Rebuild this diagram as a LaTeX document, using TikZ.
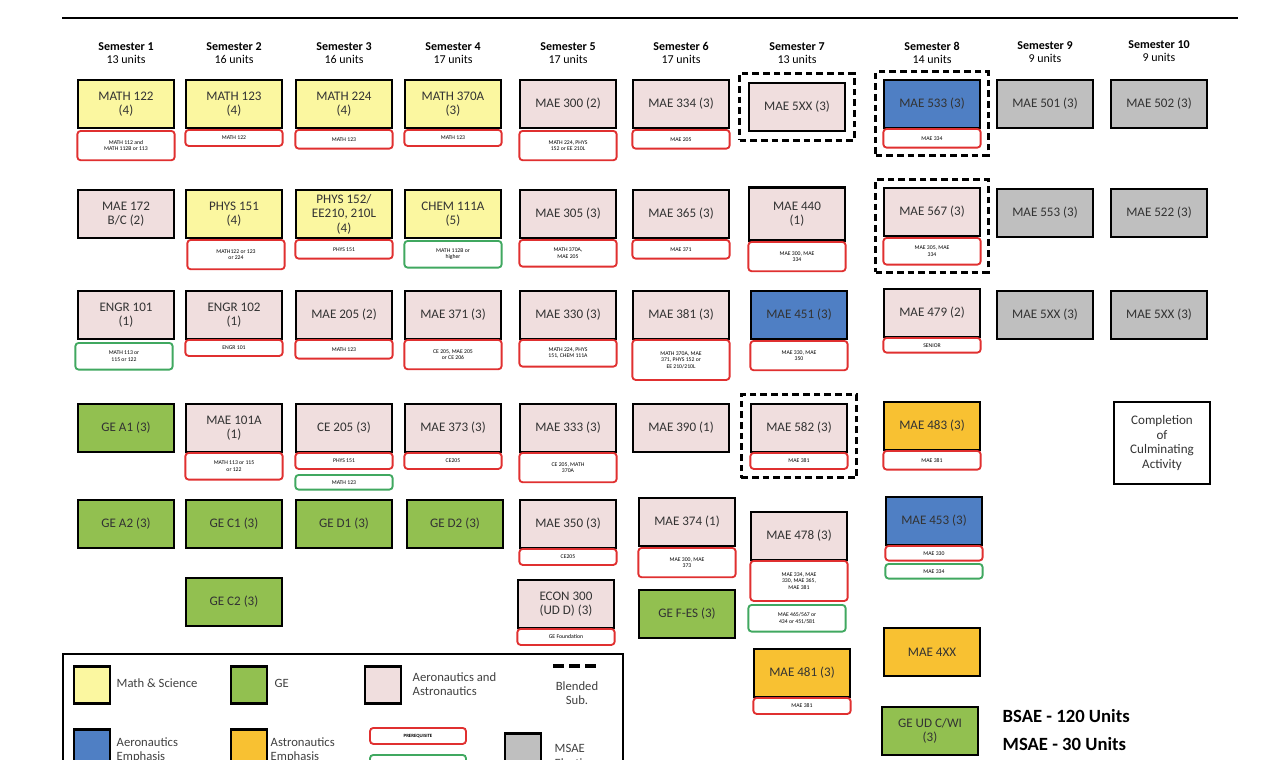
\documentclass[tikz,border=0pt]{standalone}
\usepackage{fontspec}
\setmainfont{Carlito}
\usetikzlibrary{fit}
\definecolor{cy}{HTML}{FBF7A0}
\definecolor{cg}{HTML}{92C050}
\definecolor{cp}{HTML}{F0DEDE}
\definecolor{cb}{HTML}{4F7FC4}
\definecolor{co}{HTML}{F8C132}
\definecolor{cgr}{HTML}{BFBFBF}
\definecolor{cr}{HTML}{E03030}
\definecolor{cgn}{HTML}{40A860}
\tikzset{
 crs/.style={draw, line width=2.2pt, minimum width=72pt, minimum height=36pt, inner sep=1pt, align=center, font=\fontsize{9.8}{10.8}\selectfont, text=black!80},
 ms/.style={crs, fill=cy}, ge/.style={crs, fill=cg}, aa/.style={crs, fill=cp},
 bl/.style={crs, fill=cb}, orng/.style={crs, fill=co}, gy/.style={crs, fill=cgr},
 pre/.style={draw=cr, line width=1.4pt, rounded corners=2.5pt, fill=white, minimum width=73pt, inner sep=0.5pt, anchor=north, align=center, font=\fontsize{4.3}{4.8}\selectfont},
 coreq/.style={pre, draw=cgn},
 blend/.style={draw, dash pattern=on 5pt off 3pt, line width=2.2pt},
 hdr/.style={align=center, font=\bfseries\fontsize{9}{11}\selectfont}
}
\begin{document}
\begin{tikzpicture}[x=0.75pt,y=-0.75pt]
\useasboundingbox (0,0) rectangle (1278,760);
\clip (0,0) rectangle (1278,760);
\draw[line width=1.5pt] (62,18) -- (1238,18);
% headers
\foreach \x/\s/\u in {126/1/13,234/2/16,344/3/16,453/4/17,568/5/17,681/6/17,797/7/13,932/8/14}
 \node[hdr] (h\s) at (\x,53) {Semester \s\\[-1pt]{\mdseries \u\ units}};
\node[hdr] (h9) at (1045,52) {Semester 9\\[-1pt]{\mdseries 9 units}};
\node[hdr] (h10) at (1159,51) {Semester 10\\[-1pt]{\mdseries 9 units}};
% Sem 1
\node[ms] (a1) at (126,104) {MATH 122\\(4)};
\node[pre, minimum height=22pt] (pa1) at (126,130) {MATH 112 and\\MATH 112B or 113};
\node[aa] (a2) at (126,214) {MAE 172\\B/C (2)};
\node[aa] (a3) at (126,315) {ENGR 101\\(1)};
\node[coreq, minimum height=20pt] (pa3) at (124,342) {MATH 113 or\\115 or 122};
\node[ge] (a4) at (126,428) {GE A1 (3)};
\node[ge] (a5) at (126,524) {GE A2 (3)};
% Sem 2
\node[ms] (b1) at (234,104) {MATH 123\\(4)};
\node[pre, minimum height=12pt] (pb1) at (234,129) {MATH 122};
\node[ms] (b2) at (234,214) {PHYS 151\\(4)};
\node[pre, minimum height=22pt] (pb2) at (236,239) {MATH122 or 123\\or 224};
\node[aa] (b3) at (234,315) {ENGR 102\\(1)};
\node[pre, minimum height=12pt] (pb3) at (234,339) {ENGR 101};
\node[aa] (b4) at (234,428) {MAE 101A\\(1)};
\node[pre, minimum height=20pt] (pb4) at (234,452) {MATH 113 or 115\\or 122};
\node[ge] (b5) at (234,524) {GE C1 (3)};
\node[ge] (b6) at (234,602) {GE C2 (3)};
% Sem 3
\node[ms] (c1) at (344,104) {MATH 224\\(4)};
\node[pre, minimum height=14pt] (pc1) at (344,129) {MATH 123};
\node[ms] (c2) at (344,214) {PHYS 152/\\EE210, 210L\\(4)};
\node[pre, minimum height=14pt] (pc2) at (344,239) {PHYS 151};
\node[aa] (c3) at (344,315) {MAE 205 (2)};
\node[pre, minimum height=14pt] (pc3) at (344,339) {MATH 123};
\node[aa] (c4) at (344,428) {CE 205 (3)};
\node[pre, minimum height=12pt] (pc4) at (344,452) {PHYS 151};
\node[coreq, minimum height=11pt] (qc4) at (344,474) {MATH 123};
\node[ge] (c5) at (344,524) {GE D1 (3)};
% Sem 4
\node[ms] (d1) at (453,104) {MATH 370A\\(3)};
\node[pre, minimum height=12pt] (pd1) at (453,129) {MATH 123};
\node[ms] (d2) at (453,214) {CHEM 111A\\(5)};
\node[coreq, minimum height=20pt] (pd2) at (453,240) {MATH 112B or\\higher};
\node[aa] (d3) at (453,315) {MAE 371 (3)};
\node[pre, minimum height=22pt] (pd3) at (453,339) {CE 205, MAE 205\\or CE 206};
\node[aa] (d4) at (453,428) {MAE 373 (3)};
\node[pre, minimum height=12pt] (pd4) at (453,452) {CE205};
\node[ge] (d5) at (455,524) {GE D2 (3)};
% Sem 5
\node[aa] (e1) at (568,104) {MAE 300 (2)};
\node[pre, minimum height=22pt] (pe1) at (568,130) {MATH 224, PHYS\\152 or EE 210L};
\node[aa] (e2) at (568,214) {MAE 305 (3)};
\node[pre, minimum height=20pt] (pe2) at (568,239) {MATH 370A,\\MAE 205};
\node[aa] (e3) at (568,315) {MAE 330 (3)};
\node[pre, minimum height=20pt] (pe3) at (568,339) {MATH 224, PHYS\\151, CHEM 111A};
\node[aa] (e4) at (568,428) {MAE 333 (3)};
\node[pre, minimum height=22pt] (pe4) at (568,452) {CE 205, MATH\\370A};
\node[aa] (e5) at (568,524) {MAE 350 (3)};
\node[pre, minimum height=12pt] (pe5) at (568,548) {CE205};
\node[aa] (e6) at (566,604) {ECON 300\\(UD D) (3)};
\node[pre, minimum height=12pt] (pe6) at (566,628) {GE Foundation};
% Sem 6
\node[aa] (f1) at (681,104) {MAE 334 (3)};
\node[pre, minimum height=14pt] (pf1) at (681,129) {MAE 205};
\node[aa] (f2) at (681,214) {MAE 365 (3)};
\node[pre, minimum height=14pt] (pf2) at (681,239) {MAE 371};
\node[aa] (f3) at (681,315) {MAE 381 (3)};
\node[pre, minimum height=30pt] (pf3) at (681,339) {MATH 370A, MAE\\371, PHYS 152 or\\EE 210/210L};
\node[aa] (f4) at (681,428) {MAE 390 (1)};
\node[aa] (f5) at (687,522) {MAE 374 (1)};
\node[pre, minimum height=22pt] (pf5) at (687,547) {MAE 300, MAE\\373};
\node[ge] (f6) at (687,614) {GE F-ES (3)};
% Sem 7
\node[aa] (g1) at (797,107) {MAE 5XX (3)};
\node[blend, fit=(g1), inner sep=6pt] (bg1) {};
\node[aa, minimum height=40pt] (g2) at (797,214) {MAE 440\\(1)};
\node[pre, minimum height=22pt] (pg2) at (797,241) {MAE 300, MAE\\334};
\node[bl] (g3) at (799,315) {MAE 451 (3)};
\node[pre, minimum height=22pt] (pg3) at (799,340) {MAE 330, MAE\\350};
\node[aa] (g4) at (799,428) {MAE 582 (3)};
\node[pre, minimum height=12pt] (pg4) at (799,452) {MAE 381};
\node[blend, fit=(g4)(pg4), inner sep=6pt] (bg4) {};
\node[aa] (g5) at (799,536) {MAE 478 (3)};
\node[pre, minimum height=30pt] (pg5) at (799,560) {MAE 334, MAE\\330, MAE 365,\\MAE 381};
\node[coreq, minimum height=20pt] (qg5) at (797,604) {MAE 465/567 or\\434 or 451/581};
\node[orng] (g6) at (802,673) {MAE 481 (3)};
\node[pre, minimum height=12pt] (pg6) at (802,697) {MAE 381};
% Sem 8
\node[bl] (h81) at (932,104) {MAE 533 (3)};
\node[pre, minimum height=14pt] (ph81) at (932,128) {MAE 334};
\node[blend, fit=(h81)(ph81), inner sep=5pt] (bh81) {};
\node[aa] (h82) at (932,212) {MAE 567 (3)};
\node[pre, minimum height=20pt] (ph82) at (932,237) {MAE 305, MAE\\334};
\node[blend, fit=(h82)(ph82), inner sep=5pt] (bh82) {};
\node[aa] (h83) at (932,313) {MAE 479 (2)};
\node[pre, minimum height=11pt] (ph83) at (932,337) {SENIOR};
\node[orng] (h84) at (932,426) {MAE 483 (3)};
\node[pre, minimum height=14pt] (ph84) at (932,450) {MAE 381};
\node[bl] (h85) at (934,521) {MAE 453 (3)};
\node[pre, minimum height=11pt] (ph85) at (934,545) {MAE 330};
\node[coreq, minimum height=11pt] (qh85) at (934,563) {MAE 334};
\node[orng] (h86) at (932,652) {MAE 4XX};
\node[ge] (h87) at (930,731) {GE UD C/WI\\(3)};
% Sem 9, 10
\node[gy] (i1) at (1045,104) {MAE 501 (3)};
\node[gy] (i2) at (1045,213) {MAE 553 (3)};
\node[gy] (i3) at (1045,315) {MAE 5XX (3)};
\node[gy] (j1) at (1159,104) {MAE 502 (3)};
\node[gy] (j2) at (1159,213) {MAE 522 (3)};
\node[gy] (j3) at (1159,315) {MAE 5XX (3)};
\node[crs, fill=white, line width=1.6pt, minimum height=61pt] (j4) at (1162,443) {Completion\\of\\Culminating\\Activity};
\node[font=\bfseries\fontsize{14}{16}\selectfont, anchor=west] (t1) at (998,716) {BSAE - 120 Units};
\node[font=\bfseries\fontsize{14}{16}\selectfont, anchor=west] (t2) at (998,744) {MSAE - 30 Units};
% legend
\draw[line width=2pt] (63,654) rectangle (623,800);
\tikzset{sw/.style={draw, line width=2pt, minimum width=27pt, minimum height=28pt}, lt/.style={anchor=west, align=left, font=\fontsize{9.5}{11}\selectfont, text=black!75}}
\node[sw, fill=cy] (l1) at (92,685) {}; \node[lt] (lt1) at (112,683) {Math \& Science};
\node[sw, fill=cg] (l2) at (249,685) {}; \node[lt] (lt2) at (270,683) {GE};
\node[sw, fill=cp] (l3) at (383,685) {}; \node[lt] (lt3) at (408,684) {Aeronautics and\\Astronautics};
\draw[line width=3pt, dash pattern=on 8pt off 4pt] (553,666) -- (599,666);
\node[align=center, font=\fontsize{9.5}{11}\selectfont, text=black!75] (lt4) at (577,693) {Blended\\Sub.};
\node[sw, fill=cb] (l5) at (92,748) {}; \node[lt] (lt5) at (112,750) {Aeronautics\\Emphasis};
\node[sw, fill=co] (l6) at (249,748) {}; \node[lt] (lt6) at (266,750) {Astronautics\\Emphasis};
\node[pre, minimum width=72pt, minimum height=12pt, font=\bfseries\fontsize{3.6}{4}\selectfont] (l7) at (418,727) {PREREQUISITE};
\node[coreq, minimum width=72pt, minimum height=12pt, font=\bfseries\fontsize{3.6}{4}\selectfont] (l8) at (418,754) {COREQUISITE};
\node[sw, fill=cgr] (l9) at (523,752) {}; \node[lt] (lt9) at (550,756) {MSAE\\Elective};
\end{tikzpicture}
\end{document}
